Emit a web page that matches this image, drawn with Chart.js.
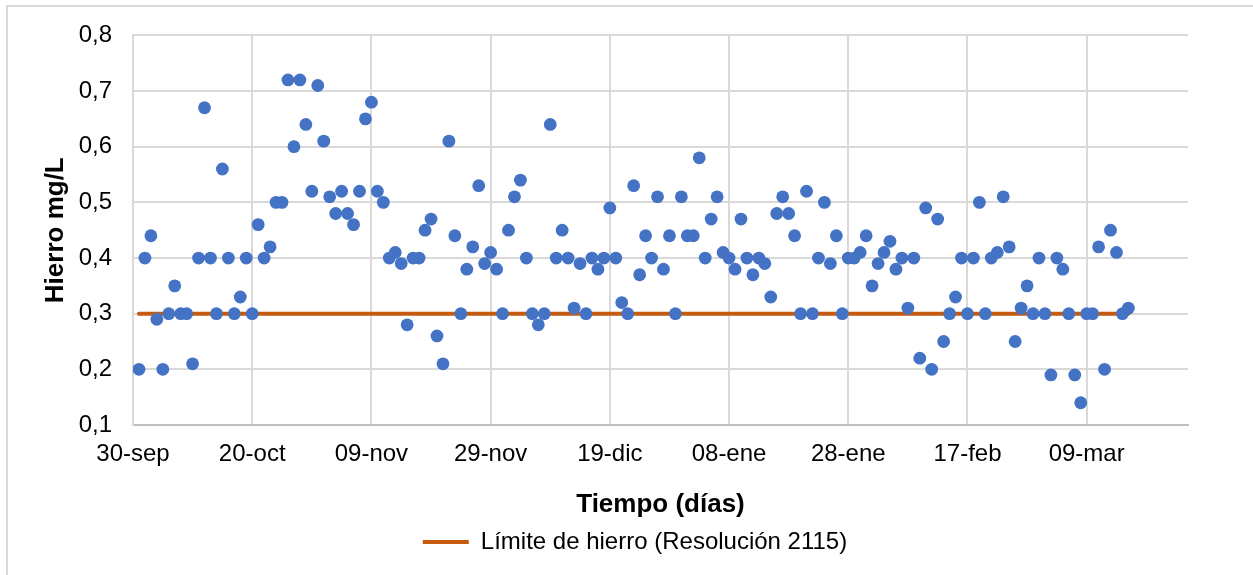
<!DOCTYPE html>
<html>
<head>
<meta charset="utf-8">
<script src="https://cdn.jsdelivr.net/npm/chart.js@4"></script>
<style>
  html, body { margin: 0; padding: 0; background: #fff; }
  #wrap { position: relative; width: 1253px; height: 575px; overflow: hidden; }
  #frame { position: absolute; left: 6px; top: 5px; width: 1300px; height: 700px; border: 2px solid #d9d9d9; }
  canvas { position: absolute; left: 0; top: 0; }
</style>
</head>
<body>
<div id="wrap">
  <div id="frame"></div>
  <canvas id="chart" width="1253" height="575"></canvas>
</div>
<script>
// one sample per day, starting the day after 30-sep
var firstDay = 1;
var hierro = [
  0.20, 0.40, 0.44, 0.29, 0.20, 0.30, 0.35, 0.30, 0.30, 0.21,
  0.40, 0.67, 0.40, 0.30, 0.56, 0.40, 0.30, 0.33, 0.40, 0.30,
  0.46, 0.40, 0.42, 0.50, 0.50, 0.72, 0.60, 0.72, 0.64, 0.52,
  0.71, 0.61, 0.51, 0.48, 0.52, 0.48, 0.46, 0.52, 0.65, 0.68,
  0.52, 0.50, 0.40, 0.41, 0.39, 0.28, 0.40, 0.40, 0.45, 0.47,
  0.26, 0.21, 0.61, 0.44, 0.30, 0.38, 0.42, 0.53, 0.39, 0.41,
  0.38, 0.30, 0.45, 0.51, 0.54, 0.40, 0.30, 0.28, 0.30, 0.64,
  0.40, 0.45, 0.40, 0.31, 0.39, 0.30, 0.40, 0.38, 0.40, 0.49,
  0.40, 0.32, 0.30, 0.53, 0.37, 0.44, 0.40, 0.51, 0.38, 0.44,
  0.30, 0.51, 0.44, 0.44, 0.58, 0.40, 0.47, 0.51, 0.41, 0.40,
  0.38, 0.47, 0.40, 0.37, 0.40, 0.39, 0.33, 0.48, 0.51, 0.48,
  0.44, 0.30, 0.52, 0.30, 0.40, 0.50, 0.39, 0.44, 0.30, 0.40,
  0.40, 0.41, 0.44, 0.35, 0.39, 0.41, 0.43, 0.38, 0.40, 0.31,
  0.40, 0.22, 0.49, 0.20, 0.47, 0.25, 0.30, 0.33, 0.40, 0.30,
  0.40, 0.50, 0.30, 0.40, 0.41, 0.51, 0.42, 0.25, 0.31, 0.35,
  0.30, 0.40, 0.30, 0.19, 0.40, 0.38, 0.30, 0.19, 0.14, 0.30,
  0.30, 0.42, 0.20, 0.45, 0.41, 0.30, 0.31
];
var limite = 0.3;
var xTickLabels = ["30-sep", "20-oct", "09-nov", "29-nov", "19-dic", "08-ene", "28-ene", "17-feb", "09-mar"];
var tickStep = 20;
var lastAxisDay = 177;

var puntos = hierro.map(function(v, i) { return {x: firstDay + i, y: v}; });
var lastDay = firstDay + hierro.length - 1;

var fuente = "'Liberation Sans', Arial, sans-serif";

// excel centres the legend a bit to the right of the canvas centre
var moverLeyenda = {
  id: 'moverLeyenda',
  afterLayout: function(chart) {
    chart.legend.left += 41;
    chart.legend.right += 41;
  }
};

new Chart(document.getElementById("chart"), {
  type: 'scatter',
  data: {
    datasets: [
      {
        label: "Hierro",
        data: puntos,
        backgroundColor: "#4472C4",
        borderWidth: 0,
        pointRadius: 6.4,
        pointHoverRadius: 6.4
      },
      {
        type: 'line',
        label: "Límite de hierro (Resolución 2115)",
        data: [{x: firstDay, y: limite}, {x: lastDay, y: limite}],
        borderColor: "#C55A11",
        backgroundColor: "#C55A11",
        borderWidth: 4,
        borderCapStyle: 'round',
        pointRadius: 0,
        showLine: true
      }
    ]
  },
  options: {
    responsive: false,
    animation: false,
    events: [],
    layout: { padding: { left: 0, right: 65, top: 34, bottom: 11 } },
    scales: {
      x: {
        type: 'linear',
        min: 0,
        max: lastAxisDay,
        afterFit: function(scale) { scale.height = 95; },
        ticks: {
          stepSize: tickStep,
          includeBounds: false,
          padding: 15,
          color: "#000",
          font: { family: fuente, size: 24 },
          callback: function(v) { return xTickLabels[Math.round(v / tickStep)]; }
        },
        grid: { color: "#d9d9d9", lineWidth: 2, drawTicks: false },
        border: { color: "#bfbfbf", width: 2 },
        title: {
          display: true,
          text: "Tiempo (días)",
          color: "#000",
          font: { family: fuente, size: 26, weight: 'bold' },
          padding: { top: 0, bottom: 0 }
        }
      },
      y: {
        min: 0.1,
        max: 0.8,
        afterFit: function(scale) { scale.width = 133; },
        ticks: {
          stepSize: 0.1,
          padding: 21,
          color: "#000",
          font: { family: fuente, size: 24 },
          callback: function(v) { return v.toFixed(1).replace('.', ','); }
        },
        grid: { color: "#d9d9d9", lineWidth: 2, drawTicks: false },
        border: { color: "#d9d9d9", width: 2 },
        title: {
          display: true,
          text: "Hierro mg/L",
          color: "#000",
          font: { family: fuente, size: 26, weight: 'bold' },
          padding: { top: 40, bottom: 0 }
        }
      }
    },
    plugins: {
      tooltip: { enabled: false },
      legend: {
        position: 'bottom',
        labels: {
          filter: function(item) { return item.datasetIndex === 1; },
          usePointStyle: true,
          pointStyle: 'line',
          pointStyleWidth: 46,
          padding: 10,
          color: "#000",
          font: { family: fuente, size: 24 }
        }
      }
    }
  },
  plugins: [moverLeyenda]
});
</script>
</body>
</html>
